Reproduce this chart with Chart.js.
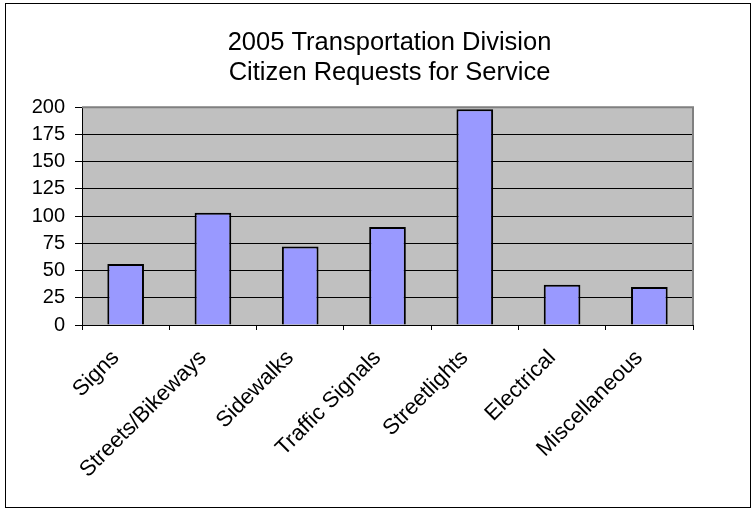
<!DOCTYPE html>
<html>
<head>
<meta charset="utf-8">
<script src="https://cdn.jsdelivr.net/npm/chart.js@4/dist/chart.umd.min.js"></script>
<style>
  html, body { margin: 0; padding: 0; background: #fff; }
  #frame { position: absolute; left: 5px; top: 3px; width: 744px; height: 503px; border: 1px solid #000; }
  #wrap { position: absolute; left: 0; top: 0; width: 755px; height: 510px; }
</style>
</head>
<body>
<div id="frame"></div>
<div id="wrap"><canvas id="chart"></canvas></div>
<script>
const categories = ['Signs', 'Streets/Bikeways', 'Sidewalks', 'Traffic Signals', 'Streetlights', 'Electrical', 'Miscellaneous'];
const requests = [56, 103, 72, 90, 198, 37, 35];
const titleLines = ['2005 Transportation Division', 'Citizen Requests for Service'];

// grey plot background, grey top/right edge like the spreadsheet chart
const plotFrame = {
    id: 'plotFrame',
    beforeDraw(chart) {
        const a = chart.chartArea;
        const ctx = chart.ctx;
        ctx.save();
        ctx.fillStyle = '#C0C0C0';
        ctx.fillRect(a.left, a.top, a.right - a.left, a.bottom - a.top);
        ctx.restore();
    },
    beforeDatasetsDraw(chart) {
        const a = chart.chartArea;
        const ctx = chart.ctx;
        ctx.save();
        ctx.strokeStyle = '#808080';
        ctx.lineWidth = 2;
        ctx.beginPath();
        ctx.moveTo(a.left, a.top);
        ctx.lineTo(a.right, a.top);
        ctx.lineTo(a.right, a.bottom);
        ctx.stroke();
        ctx.restore();
    }
};

const ctx = document.getElementById('chart').getContext('2d');
const chart = new Chart(ctx, {
    type: 'bar',
    data: {
        labels: categories,
        datasets: [{
            data: requests,
            backgroundColor: '#9999FF',
            borderColor: '#000000',
            borderWidth: 2,
            barPercentage: 0.42,
            categoryPercentage: 1.0
        }]
    },
    options: {
        responsive: true,
        maintainAspectRatio: false,
        animation: false,
        layout: { padding: { left: 24, right: 0, top: 0, bottom: 0 } },
        plugins: {
            legend: { display: false },
            tooltip: { enabled: false },
            title: {
                display: true,
                text: titleLines,
                color: '#000',
                font: { family: 'Liberation Sans', size: 25.5, weight: 'normal', lineHeight: 1.18 },
                padding: { top: 28, bottom: 19 }
            }
        },
        scales: {
            x: {
                afterFit: function (scale) { scale.height = 185; },
                grid: { display: true, drawOnChartArea: false, drawTicks: true, tickLength: 5, color: '#000' },
                border: { display: true, color: '#000', width: 1 },
                ticks: {
                    color: '#000',
                    maxRotation: 45,
                    minRotation: 45,
                    padding: 15,
                    labelOffset: -10,
                    font: { family: 'Liberation Sans', size: 22 }
                }
            },
            y: {
                min: 0,
                max: 200,
                afterFit: function (scale) { scale.width = 58; },
                grid: { color: '#000', tickLength: 7 },
                border: { display: true, color: '#000', width: 1 },
                ticks: {
                    stepSize: 25,
                    color: '#000',
                    padding: 10,
                    font: { family: 'Liberation Sans', size: 20 }
                }
            },
            gap: {
                position: 'right',
                afterFit: function (scale) { scale.width = 62; },
                grid: { display: false },
                border: { display: false },
                ticks: { display: false }
            }
        }
    },
    plugins: [plotFrame]
});
</script>
</body>
</html>
